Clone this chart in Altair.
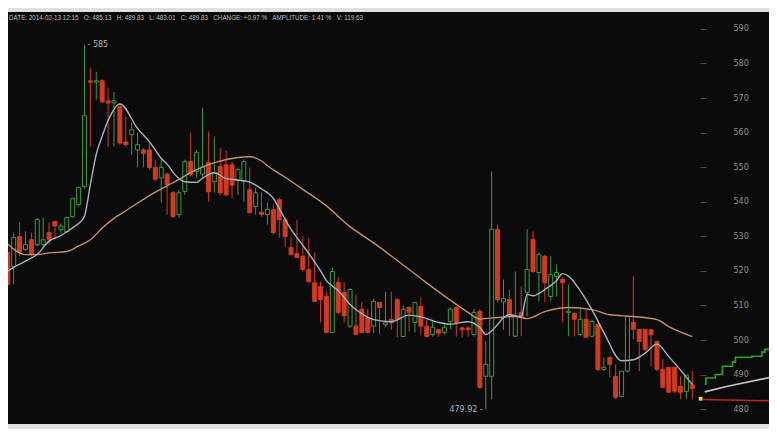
import altair as alt
import pandas as pd

# ---------------- data ----------------
opens = [525.3, 521.3, 529.9, 526.2, 529.0, 527.6, 527.6, 531.1, 534.3, 532.0,
         531.4, 535.7, 539.2, 544.4, 575.0, 574.6, 575.0, 569.2, 568.6, 567.5,
         557.3, 559.4, 555.0, 555.0, 555.0, 549.9, 546.9, 548.0, 542.6, 536.3,
         543.0, 551.6, 548.7, 548.0, 551.3, 545.8, 550.2, 550.7, 550.7, 546.2,
         545.8, 543.5, 538.6, 537.0, 536.3, 537.7, 540.6, 534.8, 526.8, 525.0,
         524.2, 520.4, 516.6, 515.5, 512.6, 502.2, 516.7, 513.8, 504.0, 504.0,
         508.9, 506.5, 504.0, 510.9, 504.5, 506.0, 511.7, 501.0, 509.4, 505.1,
         509.7, 504.0, 501.6, 503.0, 502.2, 505.4, 509.4, 503.5, 503.5, 501.6,
         508.3, 489.5, 489.5, 532.0, 511.0, 511.7, 501.1, 508.0, 513.8, 529.1,
         519.5, 524.2, 512.6, 518.4, 517.5, 508.0, 507.7, 501.6, 506.0, 501.1,
         504.5, 491.5, 495.0, 489.5, 483.7, 491.0, 505.1, 503.1, 503.1, 503.0,
         499.6, 491.5, 492.1, 492.1, 486.6, 485.13, 487.0]
highs = [527.0, 531.1, 534.0, 531.4, 531.1, 535.4, 535.4, 534.0, 534.5, 533.7,
         535.7, 541.2, 544.4, 585.4, 578.7, 577.6, 575.5, 573.0, 571.8, 568.0,
         564.6, 562.9, 560.0, 555.5, 557.4, 552.0, 552.7, 548.4, 543.2, 543.5,
         552.2, 560.0, 555.0, 567.2, 560.3, 558.8, 555.6, 554.8, 551.5, 549.9,
         552.2, 549.9, 544.1, 542.9, 539.8, 539.2, 541.2, 535.4, 529.6, 534.8,
         530.0, 529.6, 525.3, 516.9, 514.0, 521.0, 518.1, 516.7, 515.0, 513.2,
         511.0, 509.0, 512.0, 511.0, 514.0, 514.0, 512.0, 510.0, 509.7, 511.0,
         512.3, 506.0, 505.4, 503.1, 504.5, 509.4, 509.7, 504.0, 504.0, 508.9,
         508.9, 499.6, 548.7, 533.4, 517.5, 514.6, 519.8, 515.5, 532.0, 531.4,
         525.3, 524.7, 524.2, 521.8, 518.1, 516.1, 508.0, 508.9, 508.9, 506.0,
         504.5, 495.0, 495.0, 493.0, 491.0, 506.8, 518.4, 503.1, 503.1, 503.1,
         499.6, 494.4, 492.1, 492.1, 489.5, 489.83, 491.0]
lows = [515.5, 516.1, 524.2, 525.8, 524.2, 527.0, 527.0, 527.6, 529.0, 530.8,
        531.1, 535.4, 538.6, 543.8, 555.9, 569.5, 568.5, 555.9, 555.9, 556.5,
        556.0, 553.6, 550.0, 549.9, 549.3, 545.8, 539.8, 536.3, 535.4, 535.4,
        542.0, 547.3, 546.9, 546.9, 540.0, 542.6, 541.8, 541.5, 541.0, 542.0,
        540.0, 536.6, 536.3, 535.7, 533.4, 530.5, 529.6, 526.8, 524.5, 523.7,
        519.8, 516.6, 510.9, 505.1, 501.9, 502.0, 507.4, 505.1, 503.5, 501.5,
        502.0, 502.0, 502.0, 501.6, 503.7, 503.0, 500.8, 500.8, 502.5, 502.2,
        501.6, 500.8, 501.0, 501.0, 501.6, 503.1, 501.0, 500.8, 501.0, 501.0,
        485.8, 479.92, 482.9, 510.9, 503.0, 501.1, 500.8, 501.1, 506.8, 519.5,
        511.2, 510.9, 511.2, 512.6, 505.1, 501.1, 501.1, 501.1, 500.8, 500.8,
        491.0, 491.0, 489.2, 482.9, 483.4, 490.7, 500.2, 491.0, 496.7, 492.4,
        491.0, 486.0, 484.6, 484.6, 482.9, 483.01, 482.9]
closes = [516.1, 529.6, 525.3, 527.6, 524.7, 534.8, 529.0, 529.0, 533.0, 533.0,
          535.4, 540.9, 544.1, 564.9, 574.6, 575.0, 568.9, 568.6, 569.2, 557.0,
          556.5, 560.8, 556.5, 554.0, 549.9, 546.5, 549.9, 545.0, 535.7, 542.6,
          551.6, 547.8, 554.2, 550.0, 542.9, 548.4, 542.6, 542.0, 544.8, 549.3,
          551.6, 536.9, 542.6, 536.3, 537.8, 531.1, 534.8, 529.9, 524.7, 523.9,
          520.4, 516.9, 511.2, 511.7, 502.2, 519.8, 508.0, 507.0, 514.6, 501.6,
          502.2, 502.2, 511.2, 509.4, 505.0, 505.0, 505.9, 508.9, 508.0, 510.9,
          504.0, 501.0, 503.7, 502.0, 503.7, 508.9, 505.1, 503.0, 503.0, 508.0,
          486.3, 493.0, 532.0, 511.7, 512.0, 506.8, 506.8, 506.5, 520.4, 519.8,
          524.7, 516.6, 518.9, 519.5, 516.6, 508.3, 506.0, 506.0, 500.8, 505.4,
          491.5, 492.1, 493.0, 483.4, 491.0, 506.8, 503.1, 499.6, 497.3, 501.5,
          491.5, 486.3, 484.9, 485.2, 484.9, 489.83, 486.0]

# short moving average (blue-grey), read at candle positions
ma_short_i = [1, 2, 4, 6, 8, 10, 12, 13, 14, 15, 16, 17, 18, 20, 23, 25, 27, 28, 29, 31,
              33, 34, 36, 38, 40, 42, 44, 46, 47, 49, 51, 54, 55, 57, 59, 61, 63, 66, 69, 71,
              74, 76, 79, 81, 82, 84, 85, 86, 88, 89, 90, 92, 94, 95, 96, 98, 100, 102, 105, 107,
              109, 111, 113, 115, 117]
ma_short_v = [520.0, 521.0, 522.8, 524.8, 528.6, 530.2, 532.5, 533.7, 535.8, 545.0,
              553.8, 559.0, 563.5, 568.3, 561.2, 557.4, 552.6, 550.9, 548.5, 545.8,
              545.6, 546.8, 548.4, 546.7, 546.3, 545.7, 543.7, 541.0, 538.0, 532.0,
              527.4, 520.0, 517.2, 514.3, 510.3, 507.6, 505.9, 505.3, 507.2, 506.7,
              505.1, 504.6, 505.3, 503.6, 501.6, 504.5, 506.5, 507.3, 506.8, 513.2,
              512.8, 514.6, 517.2, 519.2, 518.5, 514.3, 508.7, 502.2, 494.0, 494.3,
              496.2, 498.8, 495.2, 491.3, 487.1]
# long moving average (tan)
ma_long_i = [1, 2, 4, 6, 8, 11, 13, 15, 17, 19, 21, 26, 29, 33, 36, 40, 42, 44, 45, 48,
             51, 55, 59, 63, 67, 71, 76, 79, 81, 84, 87, 89, 92, 96, 100, 103, 107, 111, 113, 117]
ma_long_v = [527.8, 526.3, 524.7, 524.7, 525.2, 525.6, 527.2, 529.0, 532.4, 535.2,
             537.4, 542.8, 545.5, 549.3, 551.3, 552.8, 553.0, 551.8, 550.4, 547.1,
             543.6, 538.8, 532.8, 528.1, 523.0, 517.8, 511.5, 508.0, 506.1, 506.5,
             506.8, 506.2, 508.2, 509.4, 508.8, 507.3, 506.8, 505.9, 503.9, 501.0]

# right-hand indicator lines
ask_i = [119.1, 119.3, 120.9, 122.1, 123.8, 124.3, 127.1, 128.8, 129.3, 130.5]
ask_v = [487.2, 489.0, 490.0, 492.4, 493.6, 495.0, 495.3, 496.5, 497.3, 498.2]
grey_i = [119.1, 122.6, 130.5]
grey_v = [485.0, 486.5, 489.3]
bid_i = [118.8, 130.5]
bid_v = [482.8, 482.4]
last_i = [118.4]
last_v = [483.0]

y_ticks = [480, 490, 500, 510, 520, 530, 540, 550, 560, 570, 580, 590]
SP = "\u00a0\u00a0\u00a0"
header = SP.join(["DATE: 2014-02-13 12:15", "O: 485.13", "H: 489.83", "L: 483.01",
                  "C: 489.83", "CHANGE: +0.97 %", "AMPLITUDE: 1.41 %", "V: 119.63"])

# ---------------- build ----------------
GREEN = "#3e9a3e"
RED = "#d33a22"
BG = "#0b0b0b"

df = pd.DataFrame({"i": list(range(1, len(opens) + 1)), "open": opens, "high": highs,
                   "low": lows, "close": closes})
df["dir"] = ["up" if c >= o else "down" for o, c in zip(df.open, df.close)]
df["top"] = df[["open", "close"]].max(axis=1)
df["bot"] = df[["open", "close"]].min(axis=1)
thin = (df.top - df.bot) < 0.35
df.loc[thin, "top"] = df.loc[thin, "bot"] + 0.35

xs = alt.Scale(domain=[1.886, 129.14])
ys = alt.Scale(domain=[475.7, 594.9])
X = alt.X("i:Q", scale=xs, axis=None)

YAXIS = alt.Axis(
    orient="right", values=y_ticks, offset=-69, tickSize=6, labelPadding=27,
    domain=False, grid=False, title=None, tickColor="#4a4a4a", tickWidth=1,
    labelColor="#8f8f8f", labelFontSize=8, labelFont="DejaVu Sans", labelAlign="left")


def Y(field):
    return alt.Y(field, scale=ys, axis=YAXIS, title=None)


dirscale_stroke = alt.Scale(domain=["up", "down"], range=[GREEN, RED])
dirscale_fill = alt.Scale(domain=["up", "down"], range=[BG, RED])

base = alt.Chart(df)

wicks = base.mark_rule(strokeWidth=1, clip=True).encode(
    x=X, y=Y("low:Q"), y2="high:Q",
    color=alt.Color("dir:N", scale=dirscale_stroke, legend=None),
)

bodies = base.mark_bar(size=4, strokeWidth=1, clip=True).encode(
    x=X, y=Y("bot:Q"), y2="top:Q",
    fill=alt.Fill("dir:N", scale=dirscale_fill, legend=None),
    stroke=alt.Stroke("dir:N", scale=dirscale_stroke, legend=None),
)

ma_s = alt.Chart(pd.DataFrame({"i": ma_short_i, "v": ma_short_v})).mark_line(
    color="#a4b4c6", strokeWidth=1.4, interpolate="monotone", clip=True).encode(
    x=X, y=Y("v:Q"))

ma_l = alt.Chart(pd.DataFrame({"i": ma_long_i, "v": ma_long_v})).mark_line(
    color="#c49264", strokeWidth=1.4, interpolate="monotone", clip=True).encode(
    x=X, y=Y("v:Q"))

ask = alt.Chart(pd.DataFrame({"i": ask_i, "v": ask_v})).mark_line(
    color="#2fa32f", strokeWidth=1.6, interpolate="step-after", clip=True).encode(
    x=X, y=Y("v:Q"))

grey = alt.Chart(pd.DataFrame({"i": grey_i, "v": grey_v})).mark_line(
    color="#c4c4c4", strokeWidth=1.6, clip=True).encode(
    x=X, y=Y("v:Q"))

bid = alt.Chart(pd.DataFrame({"i": bid_i, "v": bid_v})).mark_line(
    color="#c0241c", strokeWidth=1.6, clip=True).encode(
    x=X, y=Y("v:Q"))

last = alt.Chart(pd.DataFrame({"i": last_i, "v": last_v})).mark_square(
    color="#f2e23a", size=14, opacity=1, clip=True).encode(
    x=X, y=Y("v:Q"))

hi_row = df.loc[[df.high.idxmax()]].assign(lbl=lambda d: "-  " + d.high.round(0).astype(int).astype(str))
lo_row = df.loc[[df.low.idxmin()]].assign(lbl=lambda d: d.low.map(lambda v: f"{v:.2f}") + "  -")

hi_txt = alt.Chart(hi_row).mark_text(align="left", baseline="middle", dx=3, fontSize=8,
                                     color="#b5b5b5", font="DejaVu Sans").encode(
    x=X, y=Y("high:Q"), text="lbl:N")
lo_txt = alt.Chart(lo_row).mark_text(align="right", baseline="middle", dx=-3, dy=1, fontSize=8,
                                     color="#b5b5b5", font="DejaVu Sans").encode(
    x=X, y=Y("low:Q"), text="lbl:N")

head = alt.Chart(pd.DataFrame({"t": [header]})).mark_text(
    align="left", baseline="middle", fontSize=6.3, color="#bdbdbd",
    font="Liberation Sans").encode(
    x=alt.value(1), y=alt.value(6), text="t:N")

chart = alt.layer(wicks, bodies, ma_l, ma_s, ask, grey, bid, last, hi_txt, lo_txt, head).properties(
    width=761, height=412,
    padding={"left": 0, "right": 0, "top": 4, "bottom": 5},
    autosize=alt.AutoSizeParams(type="none"),
    background="#e0e0e0",
).configure_view(fill=BG, strokeWidth=0)

chart.save("out.html", embed_options={"renderer": "svg", "actions": False})
